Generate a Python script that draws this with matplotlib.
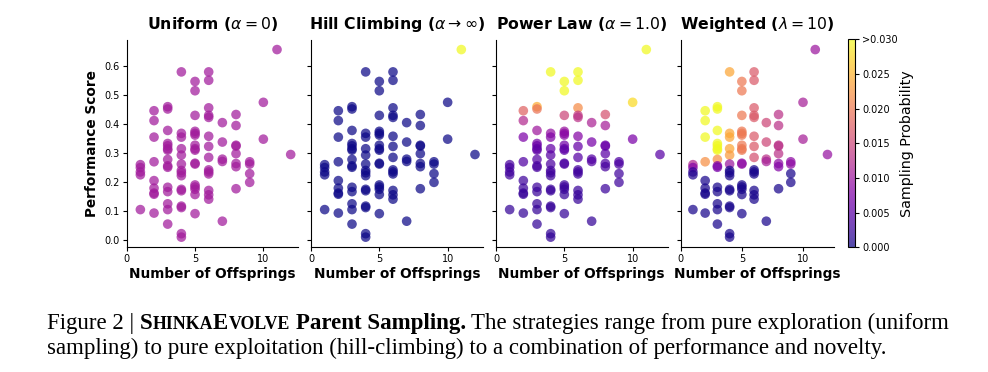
import numpy as np
import matplotlib
matplotlib.use("Agg")
from matplotlib import pyplot as plt
from matplotlib.colors import Normalize

# number of offsprings per program (x) and performance score (y)
offspring = [1, 1, 1, 1, 1,
             2, 2, 2, 2, 2, 2, 2, 2, 2,
             3, 3, 3, 3, 3, 3, 3, 3, 3, 3, 3, 3, 3, 3, 3,
             4, 4, 4, 4, 4, 4, 4, 4, 4, 4, 4, 4, 4, 4, 4,
             5, 5, 5, 5, 5, 5, 5, 5, 5, 5, 5, 5, 5, 5, 5, 5,
             6, 6, 6, 6, 6, 6, 6, 6, 6, 6, 6, 6, 6, 6,
             7, 7, 7, 7, 7,
             8, 8, 8, 8, 8, 8, 8, 8,
             9, 9, 9, 9,
             10, 10, 11, 12]
score = [0.26, 0.25, 0.235, 0.225, 0.105,
         0.446, 0.412, 0.355, 0.27, 0.205, 0.179, 0.162, 0.158, 0.093,
         0.46, 0.452, 0.378, 0.333, 0.325, 0.315, 0.31, 0.278, 0.256, 0.251, 0.182, 0.167, 0.125, 0.105, 0.055,
         0.58, 0.368, 0.355, 0.315, 0.293, 0.262, 0.24, 0.232, 0.222, 0.175, 0.17, 0.117, 0.112, 0.022, 0.01,
         0.547, 0.515, 0.43, 0.375, 0.368, 0.362, 0.327, 0.315, 0.31, 0.265, 0.262, 0.19, 0.183, 0.175, 0.157, 0.091,
         0.58, 0.551, 0.456, 0.43, 0.423, 0.358, 0.323, 0.285, 0.242, 0.235, 0.228, 0.171, 0.156, 0.141,
         0.405, 0.338, 0.279, 0.271, 0.065,
         0.433, 0.395, 0.327, 0.324, 0.298, 0.264, 0.253, 0.177,
         0.27, 0.262, 0.229, 0.199,
         0.475, 0.348, 0.657, 0.295]
# weighted sampling probability
weighted_prob = [0.012, 0.008, 0.002, 0.001, 0.0005,
                 0.035, 0.035, 0.035, 0.022, 0.0005, 0.0005, 0.0005, 0.0005, 0.0005,
                 0.034, 0.034, 0.031, 0.03, 0.03, 0.03, 0.03, 0.022, 0.008, 0.007, 0.0005, 0.0005, 0.0005, 0.0005, 0.0005,
                 0.024, 0.024, 0.024, 0.024, 0.023, 0.01, 0.0005, 0.0005, 0.0005, 0.0005, 0.0005, 0.0005, 0.0005, 0.0005, 0.0005,
                 0.02, 0.02, 0.02, 0.02, 0.02, 0.02, 0.02, 0.02, 0.02, 0.009, 0.009, 0.0005, 0.0005, 0.0005, 0.0005, 0.0005,
                 0.017, 0.017, 0.017, 0.017, 0.017, 0.017, 0.017, 0.016, 0.0005, 0.0005, 0.0005, 0.0005, 0.0005, 0.0005,
                 0.015, 0.015, 0.013, 0.011, 0.0005,
                 0.013, 0.013, 0.013, 0.013, 0.013, 0.009, 0.008, 0.0005,
                 0.009, 0.009, 0.0005, 0.0005,
                 0.011, 0.011, 0.01, 0.0095]

titles = [r"Uniform ($\alpha = 0$)", r"Hill Climbing ($\alpha \rightarrow \infty$)",
          r"Power Law ($\alpha = 1.0$)", r"Weighted ($\lambda = 10$)"]
cbar_ticks = [0.0, 0.005, 0.01, 0.015, 0.02, 0.025, 0.03]
cbar_ticklabels = ["0.000", "0.005", "0.010", "0.015", "0.020", "0.025", ">0.030"]

x = np.array(offspring)
y = np.array(score)
n = len(y)

# sampling probabilities of each strategy
p_uniform = np.full(n, 1.0 / n)
p_hill = np.zeros(n)
p_hill[np.argmax(y)] = 1.0
ranks = np.empty(n)
ranks[np.argsort(-y)] = np.arange(1, n + 1)
p_power = ranks ** -1.0
p_power = p_power / p_power.sum()
p_weighted = np.array(weighted_prob)
probs = [p_uniform, p_hill, p_power, p_weighted]

W, H = 988, 372
fig = plt.figure(figsize=(W / 100, H / 100), dpi=100)
norm = Normalize(vmin=0, vmax=0.03)

lefts = [126.7, 311, 496, 680.7]
widths = [171.5, 171.5, 171.5, 153.5]
bot, top = 247, 40
axs = []
for i in range(4):
    ax = fig.add_axes([lefts[i] / W, 1 - bot / H, widths[i] / W, (bot - top) / H])
    sc = ax.scatter(x, y, c=np.clip(probs[i], 0, 0.03), cmap="plasma", norm=norm,
                    s=48, alpha=0.72, edgecolors="none")
    ax.set_xlim(left=0)
    ax.set_ylim(-0.024, 0.69)
    ax.set_xticks([0, 5, 10])
    ax.set_yticks([0.0, 0.1, 0.2, 0.3, 0.4, 0.5, 0.6])
    ax.set_title(titles[i], fontsize=11.3, fontweight="bold", pad=8)
    ax.set_xlabel("Number of Offsprings", fontsize=9.8, fontweight="bold", labelpad=2)
    ax.spines["top"].set_visible(False)
    ax.spines["right"].set_visible(False)
    ax.tick_params(labelsize=7, length=3, pad=2)
    if i == 0:
        ax.set_ylabel("Performance Score", fontsize=9.8, fontweight="bold")
    else:
        ax.tick_params(labelleft=False)
    axs.append(ax)

cax = fig.add_axes([848 / W, 1 - 247.3 / H, 7 / W, 208 / H])
cb = fig.colorbar(sc, cax=cax)
cb.set_ticks(cbar_ticks)
cb.set_ticklabels(cbar_ticklabels)
cb.ax.tick_params(labelsize=7, length=3, pad=2)
cb.set_label("Sampling Probability", fontsize=10.3, labelpad=2)
cb.outline.set_linewidth(0.8)

# caption with small-caps name
renderer = fig.canvas.get_renderer()
serif = "Liberation Serif"
fs = 16.5


def run(xpx, ypx, text, size, weight="normal"):
    t = fig.text(xpx / W, 1 - ypx / H, text, fontsize=size, fontweight=weight,
                 family=serif, va="baseline", ha="left")
    return xpx + t.get_window_extent(renderer).width


def space(size, weight="normal"):
    a = fig.text(0, 0, "aa", fontsize=size, fontweight=weight, family=serif)
    b = fig.text(0, 0, "a a", fontsize=size, fontweight=weight, family=serif)
    w = b.get_window_extent(renderer).width - a.get_window_extent(renderer).width
    a.remove()
    b.remove()
    return w


sc_small = fs * 0.78
cx = 47
cy = 329
cx = run(cx, cy, "Figure 2 |", fs) + space(fs)
cx = run(cx, cy, "S", fs, "bold")
cx = run(cx, cy, "HINKA", sc_small, "bold")
cx = run(cx, cy, "E", fs, "bold")
cx = run(cx, cy, "VOLVE", sc_small, "bold") + space(fs, "bold")
cx = run(cx, cy, "Parent Sampling.", fs, "bold") + space(fs)
run(cx, cy, "The strategies range from pure exploration (uniform", fs)
run(47, 354, "sampling) to pure exploitation (hill-climbing) to a combination of performance and novelty.", fs)

fig.savefig("out.png", dpi=100)
